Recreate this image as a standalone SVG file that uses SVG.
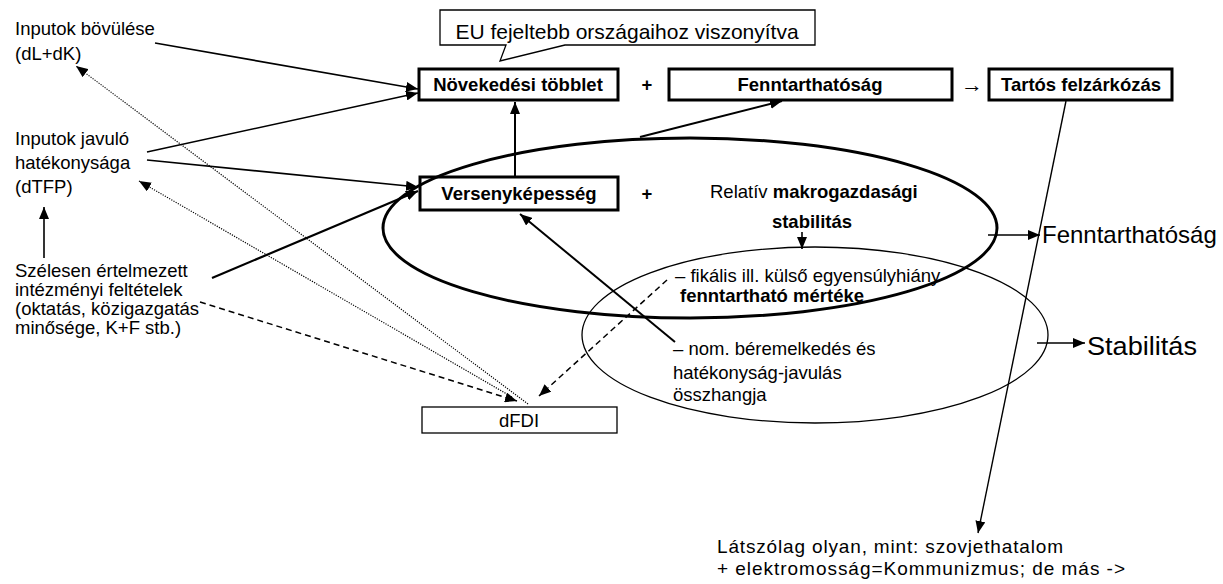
<svg xmlns="http://www.w3.org/2000/svg" width="1223" height="584" viewBox="0 0 1223 584">
<style>
.t{font-family:"Liberation Sans",Arial,Helvetica,sans-serif;font-size:18.5px;fill:#000}
.b{font-weight:bold}
.box{fill:#fff;stroke:#000;stroke-width:3}
.tbox{fill:#fff;stroke:#000;stroke-width:1.3}
.ln{stroke:#000;stroke-width:1.6;fill:none}
.dot{stroke-dasharray:1.2 1.3;stroke-width:1.2}
.dash{stroke-dasharray:6 4;stroke-width:1.5}
</style>
<defs>
<marker id="ah" markerUnits="userSpaceOnUse" markerWidth="13" markerHeight="10" refX="12" refY="5" orient="auto-start-reverse">
<path d="M0,0 L12,5 L0,10 z" fill="#000"/>
</marker>
</defs>
<rect width="1223" height="584" fill="#fff"/>

<g id="callout">
<path d="M440,10 H815 V45 H565 L500,61 L506,45 H440 Z" class="tbox"/>
<text x="627" y="39" class="t" style="font-size:21px" text-anchor="middle">EU fejeltebb országaihoz viszonyítva</text>
</g>

<g id="novekedesi">
<rect x="419" y="69" width="199" height="31" class="box"/>
<text x="518" y="91" class="t b" text-anchor="middle">Növekedési többlet</text>
</g>
<text x="647" y="91" class="t b" text-anchor="middle">+</text>
<g id="fenntarthatosag-box">
<rect x="669" y="69" width="283" height="31" class="box"/>
<text x="810" y="91" class="t b" text-anchor="middle">Fenntarthatóság</text>
</g>
<text x="961" y="92" class="t" style="font-size:22px">→</text>
<g id="tartos">
<rect x="989" y="69" width="183" height="31" class="box"/>
<text x="1081" y="91" class="t b" text-anchor="middle">Tartós felzárkózás</text>
</g>

<g id="versenykepesseg">
<rect x="420" y="177" width="198" height="33" class="box"/>
<text x="519" y="200" class="t b" text-anchor="middle">Versenyképesség</text>
</g>
<text x="647" y="200" class="t b" text-anchor="middle">+</text>

<g id="dfdi">
<rect x="422" y="407" width="195" height="26" class="tbox"/>
<text x="519" y="427" class="t" text-anchor="middle">dFDI</text>
</g>

<g id="makro">
<ellipse cx="690" cy="228" rx="307" ry="90" fill="none" stroke="#000" stroke-width="3"/>
<text x="710" y="198" class="t">Relatív <tspan class="b">makrogazdasági</tspan></text>
<text x="812" y="228" class="t b" text-anchor="middle">stabilitás</text>
</g>

<g id="stabil">
<ellipse cx="815" cy="335" rx="233" ry="88" fill="none" stroke="#000" stroke-width="1.3"/>
<text x="675" y="282" class="t">– fikális ill. külső egyensúlyhiány</text>
<text x="680" y="302" class="t b">fenntartható mértéke</text>
<text x="673" y="355" class="t">– nom. béremelkedés és</text>
<text x="673" y="379" class="t">hatékonyság-javulás</text>
<text x="673" y="401" class="t">összhangja</text>
</g>

<g id="inputok-bov">
<text x="15" y="35" class="t">Inputok bövülése</text>
<text x="15" y="60" class="t">(dL+dK)</text>
</g>
<g id="inputok-jav">
<text x="15" y="145" class="t">Inputok javuló</text>
<text x="15" y="169" class="t">hatékonysága</text>
<text x="15" y="193" class="t">(dTFP)</text>
</g>
<g id="intezmenyi">
<text x="15" y="277" class="t">Szélesen értelmezett</text>
<text x="15" y="296" class="t">intézményi feltételek</text>
<text x="15" y="315" class="t">(oktatás, közigazgatás</text>
<text x="15" y="334" class="t">minősége, K+F stb.)</text>
</g>

<g id="fennt-label">
<text x="1042" y="243" class="t" style="font-size:24px">Fenntarthatóság</text>
</g>
<g id="stab-label">
<text x="1087" y="355" class="t" style="font-size:26px" textLength="110" lengthAdjust="spacingAndGlyphs">Stabilitás</text>
</g>

<g id="bottom-note">
<text x="717" y="553" class="t" style="font-size:19px" textLength="346" lengthAdjust="spacing">Látszólag olyan, mint: szovjethatalom</text>
<text x="717" y="574.5" class="t" style="font-size:19px" textLength="408" lengthAdjust="spacing">+ elektromosság=Kommunizmus; de más -&gt;</text>
</g>

<g id="connectors">
<line x1="155" y1="43" x2="418" y2="89" class="ln" marker-end="url(#ah)"/>
<line x1="147" y1="152" x2="418" y2="93" class="ln" marker-end="url(#ah)"/>
<line x1="147" y1="160" x2="418" y2="187" class="ln" marker-end="url(#ah)"/>
<line x1="212" y1="278" x2="418" y2="191" class="ln" style="stroke-width:2.2" marker-end="url(#ah)"/>
<line x1="44" y1="258" x2="44" y2="207" class="ln" marker-end="url(#ah)"/>
<line x1="515" y1="177" x2="515" y2="102" class="ln" style="stroke-width:2" marker-end="url(#ah)"/>
<line x1="640" y1="137" x2="782" y2="101" class="ln" style="stroke-width:2" marker-end="url(#ah)"/>
<line x1="675" y1="342" x2="520" y2="214" class="ln" style="stroke-width:2" marker-end="url(#ah)"/>
<line x1="802" y1="232" x2="802" y2="249" class="ln" marker-end="url(#ah)"/>
<line x1="528" y1="404" x2="76" y2="66" class="ln dot" marker-end="url(#ah)"/>
<line x1="512" y1="397" x2="139" y2="181" class="ln dot" marker-end="url(#ah)"/>
<line x1="200" y1="302" x2="517" y2="401" class="ln dash" marker-end="url(#ah)"/>
<line x1="667" y1="280" x2="539" y2="396" class="ln dash" marker-end="url(#ah)"/>
<line x1="1066" y1="101" x2="978" y2="533" class="ln" style="stroke-width:1.4" marker-end="url(#ah)"/>
<line x1="988" y1="235" x2="1040" y2="235" class="ln" marker-end="url(#ah)"/>
<line x1="1037" y1="343" x2="1085" y2="343" class="ln" marker-end="url(#ah)"/>
</g>
</svg>
